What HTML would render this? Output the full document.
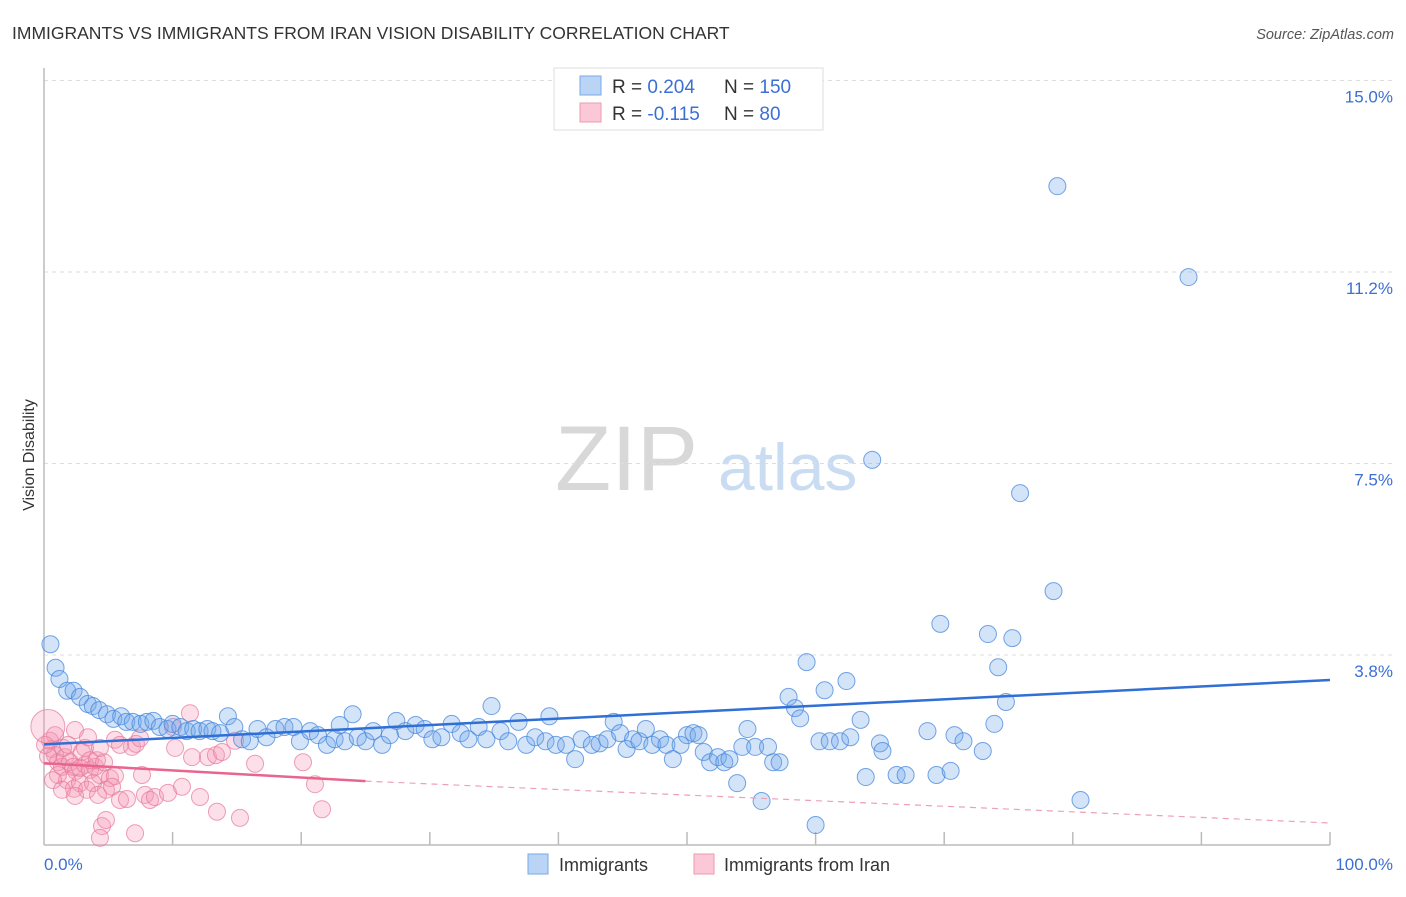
<!DOCTYPE html>
<html><head><meta charset="utf-8"><style>
body{margin:0;background:#fff;font-family:"Liberation Sans",sans-serif;}
svg text{font-family:"Liberation Sans",sans-serif;}
</style></head><body>
<svg id="chart" width="1406" height="892" viewBox="0 0 1406 892" xmlns="http://www.w3.org/2000/svg">
<text x="12" y="39" font-size="17.5" fill="#333">IMMIGRANTS VS IMMIGRANTS FROM IRAN VISION DISABILITY CORRELATION CHART</text>
<text x="1394" y="39" font-size="14.5" fill="#555" font-style="italic" text-anchor="end">Source: ZipAtlas.com</text>
<g>
<text x="555" y="490" font-size="92" fill="#d8d8d8" font-family="Liberation Serif, serif">ZIP</text>
<text x="718" y="490" font-size="66" fill="#c9dcf2">atlas</text>
</g>
<g id="grid"></g>
<g id="axes"></g>
<text transform="translate(34,455) rotate(-90)" font-size="16" fill="#333" text-anchor="middle">Vision Disability</text>
<g id="marks"></g>
<g id="trends"></g>
<g>
<rect x="554" y="68" width="269" height="62" fill="#fff" stroke="#ddd"/>
<rect x="580" y="76" width="21" height="19" fill="#b9d4f5" stroke="#7aaae8"/>
<rect x="580" y="103" width="21" height="19" fill="#fbc8d8" stroke="#ee9ab4"/>
<text x="612" y="93" font-size="19" fill="#333">R = <tspan fill="#3b6fd4">0.204</tspan></text>
<text x="724" y="93" font-size="19" fill="#333">N = <tspan fill="#3b6fd4">150</tspan></text>
<text x="612" y="120" font-size="19" fill="#333">R = <tspan fill="#3b6fd4">-0.115</tspan></text>
<text x="724" y="120" font-size="19" fill="#333">N = <tspan fill="#3b6fd4"> 80</tspan></text>
</g>
<g>
<rect x="528" y="854" width="20" height="20" fill="#b9d4f5" stroke="#7aaae8"/>
<text x="559" y="871" font-size="18" fill="#333">Immigrants</text>
</g>
<g>
<rect x="694" y="854" width="20" height="20" fill="#fbc8d8" stroke="#ee9ab4"/>
<text x="724" y="871" font-size="18" fill="#333">Immigrants from Iran</text>
</g>
</svg>
<script>
const yTicks=[3.8,7.5,11.2,15.0];
const yTickVals=[3.75,7.5,11.25,15.0];
const xTickLabels=["0.0%","100.0%"];
const blueX=[0.5,0.9,1.2,1.8,2.3,2.8,3.4,3.8,4.3,4.9,5.4,6.0,6.4,6.9,7.5,8.0,8.5,9.0,9.6,10.0,10.6,11.1,11.6,12.1,12.7,13.1,13.7,14.3,14.8,15.4,16.0,16.6,17.3,18.0,18.7,19.4,19.9,20.7,21.3,22.0,22.6,23.0,23.4,24.0,24.4,25.0,25.6,26.3,26.9,27.4,28.1,28.9,29.6,30.2,30.9,31.7,32.4,33.0,33.8,34.4,34.8,35.5,36.1,36.9,37.5,38.2,39.0,39.3,39.8,40.6,41.3,41.8,42.6,43.2,43.8,44.3,44.8,45.3,45.8,46.3,46.8,47.3,47.9,48.4,48.9,49.5,50.0,50.5,50.9,51.3,51.8,52.4,52.9,53.3,53.9,54.3,54.7,55.3,55.8,56.3,56.7,57.2,57.9,58.4,58.8,59.3,60.0,60.3,60.7,61.1,61.9,62.4,62.7,63.5,63.9,64.4,65.0,65.2,66.3,67.0,68.7,69.4,69.7,70.5,70.8,71.5,73.0,73.4,73.9,74.2,74.8,75.3,75.9,78.5,78.8,80.6,89.0];
const blueY=[3.96,3.5,3.28,3.05,3.05,2.93,2.79,2.75,2.67,2.59,2.5,2.55,2.44,2.44,2.4,2.44,2.46,2.34,2.3,2.4,2.34,2.26,2.3,2.26,2.3,2.26,2.22,2.55,2.34,2.1,2.06,2.3,2.14,2.3,2.34,2.34,2.06,2.26,2.18,1.99,2.1,2.38,2.06,2.59,2.14,2.06,2.26,1.99,2.18,2.46,2.26,2.38,2.3,2.1,2.14,2.4,2.22,2.1,2.34,2.1,2.75,2.26,2.06,2.44,1.99,2.14,2.06,2.55,1.99,1.99,1.71,2.1,1.99,2.02,2.1,2.44,2.22,1.91,2.1,2.06,2.3,1.99,2.1,1.99,1.71,1.99,2.18,2.22,2.18,1.85,1.65,1.75,1.65,1.71,1.24,1.95,2.3,1.95,0.89,1.95,1.65,1.65,2.93,2.71,2.51,3.61,0.42,2.06,3.06,2.06,2.06,3.24,2.14,2.48,1.36,7.57,2.02,1.87,1.4,1.4,2.26,1.4,4.36,1.48,2.18,2.06,1.87,4.16,2.4,3.51,2.83,4.08,6.92,5.0,12.93,0.91,11.15];
const pinkX=[0.47,0.62,0.86,1.09,1.40,1.63,2.02,2.26,2.49,2.80,3.19,3.58,3.97,4.35,0.86,1.48,1.87,2.41,3.19,3.42,2.95,3.58,4.12,4.67,5.13,5.52,1.09,1.79,2.33,2.80,3.34,3.81,4.20,4.82,5.29,5.91,6.45,7.62,7.85,8.24,8.63,9.64,10.73,12.13,13.45,15.24,4.51,4.35,4.82,7.08,6.84,7.15,10.19,11.35,11.51,12.75,13.37,13.84,14.85,16.41,20.14,21.07,21.62,10.03,5.52,5.91,7.47,4.35,0.70,1.40,2.41,0.08,0.31,0.3];
const pinkY=[2.07,1.91,1.79,1.65,1.56,1.75,1.65,1.56,1.48,1.54,1.60,1.50,1.56,1.40,2.18,1.93,1.99,2.28,1.93,2.14,1.85,1.69,1.69,1.65,1.34,1.38,1.40,1.30,1.13,1.24,1.11,1.24,1.01,1.11,1.17,0.91,0.93,1.40,1.01,0.91,0.97,1.05,1.17,0.97,0.68,0.56,0.40,0.17,0.52,0.26,1.95,2.01,1.93,2.61,1.75,1.75,1.79,1.85,2.07,1.62,1.65,1.22,0.73,2.34,2.09,1.99,2.12,1.93,1.30,1.11,0.99,1.99,1.77,2.35];
const pinkR=pinkX.map((_,i)=>i===pinkX.length-1?17:8.5);
const blueTrend=[2.0,3.26];
const pinkTrendSolid=[1.63,1.28];
const pinkTrendEnd=[25,100];
const pinkTrendDashEnd=0.46;

const L=44,R=1330,B=845;
const xs=v=>L+v*(R-L)/100;
const ys=v=>846.5-v*51.07;
const NS="http://www.w3.org/2000/svg";
function mk(tag,attrs,parent){const e=document.createElementNS(NS,tag);for(const k in attrs)e.setAttribute(k,attrs[k]);parent.appendChild(e);return e;}
const grid=document.getElementById('grid'),axes=document.getElementById('axes'),marks=document.getElementById('marks'),trends=document.getElementById('trends');
yTickVals.forEach((v,i)=>{
  const l=mk('line',{x1:L,x2:1395,y1:ys(v),y2:ys(v),stroke:'#ddd','stroke-dasharray':'4,4'},grid);
  
  
  const t=mk('text',{x:1393,y:ys(v)+22,'font-size':17,fill:'#3b6fd4','text-anchor':'end'},axes);
  t.textContent=yTicks[i].toFixed(1)+'%';
  
  
});
mk('line',{x1:L,x2:L,y1:68,y2:B,stroke:'#bbb','stroke-width':1.5},axes);
mk('line',{x1:L,x2:R,y1:B,y2:B,stroke:'#bbb','stroke-width':1.5},axes);
for(let i=1;i<=10;i++){
  const t=mk('line',{x1:xs(i*10),x2:xs(i*10),y1:832,y2:B,stroke:'#bbb','stroke-width':1.5},axes);
  
  
}
const xl0=mk('text',{x:44,y:870,'font-size':17,fill:'#3b6fd4'},axes);xl0.textContent=xTickLabels[0];


const xl1=mk('text',{x:1393,y:870,'font-size':17,fill:'#3b6fd4','text-anchor':'end'},axes);xl1.textContent=xTickLabels[1];


pinkX.forEach((x,i)=>{
  const c=mk('circle',{cx:xs(x),cy:ys(pinkY[i]),r:pinkR[i],fill:'rgba(244,150,180,0.3)',stroke:'rgba(230,120,155,0.7)','stroke-width':1},marks);
  
  
});
blueX.forEach((x,i)=>{
  const c=mk('circle',{cx:xs(x),cy:ys(blueY[i]),r:8.5,fill:'rgba(110,165,235,0.3)',stroke:'rgba(70,135,220,0.75)','stroke-width':1},marks);
  
  
});
const bt=mk('line',{x1:xs(0),y1:ys(blueTrend[0]),x2:xs(100),y2:ys(blueTrend[1]),stroke:'#2f6fd6','stroke-width':2.5},trends);


const pt=mk('line',{x1:xs(0),y1:ys(pinkTrendSolid[0]),x2:xs(pinkTrendEnd[0]),y2:ys(pinkTrendSolid[1]),stroke:'#e8658e','stroke-width':2.5},trends);


const pd=mk('line',{x1:xs(pinkTrendEnd[0]),y1:ys(pinkTrendSolid[1]),x2:xs(pinkTrendEnd[1]),y2:ys(pinkTrendDashEnd),stroke:'#eea0b8','stroke-width':1.2,'stroke-dasharray':'6,5'},trends);


</script>
</body></html>
